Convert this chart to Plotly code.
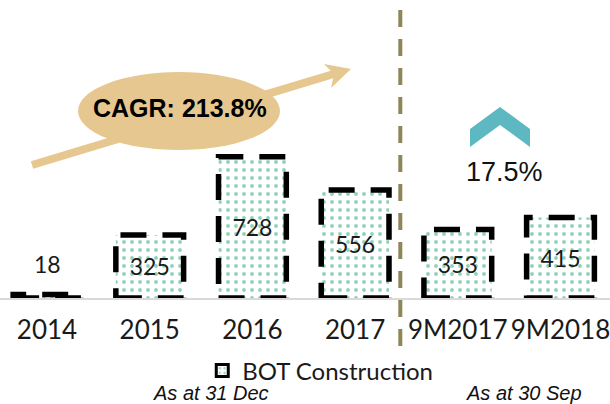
import plotly.graph_objects as go

categories = ["2014", "2015", "2016", "2017", "9M2017", "9M2018"]
values = [18, 325, 728, 556, 353, 415]
series_name = "BOT Construction"
cagr_label = "CAGR: 213.8%"
growth_label = "17.5%"
period_labels = ["As at 31 Dec", "As at 30 Sep"]

W, H = 610, 404
T, B = 6, 106
PLOT_H = H - T - B
BASE = H - B


def px(x):
    return x / W


def py(y):
    return (BASE - y) / PLOT_H


green = "#1FA571"
tan = "#E6C78F"
teal = "#5DB8C1"
olive = "#8E8559"
font_main = "Lato"

fig = go.Figure()

texts = ["" if i == 0 else str(v) for i, v in enumerate(values)]
fig.add_trace(go.Bar(
    x=categories, y=values, width=0.66,
    marker=dict(color="white", line=dict(width=0),
                pattern=dict(shape=".", fgcolor=green, bgcolor="white",
                             size=8, solidity=0.18)),
    text=texts, textposition="inside", insidetextanchor="middle",
    textfont=dict(family=font_main, size=23, color="#1a1a1a"),
    showlegend=False, hoverinfo="skip",
))
# legend-only entry
fig.add_trace(go.Bar(
    x=[None], y=[None], name=series_name,
    marker=dict(color="white", line=dict(width=3, color="black"),
                pattern=dict(shape=".", fgcolor=green, bgcolor="white",
                             size=6, solidity=0.2)),
    showlegend=True,
))

shapes = []
# arrow (behind ellipse)
shapes.append(dict(type="line", xref="paper", yref="paper",
                   x0=px(32), y0=py(165), x1=px(337), y1=py(73),
                   line=dict(color=tan, width=8)))
shapes.append(dict(type="path", xref="paper", yref="paper",
                   path=f"M{px(351)},{py(69)} L{px(324)},{py(64)} L{px(334)},{py(74)} L{px(331)},{py(88)} Z",
                   fillcolor=tan, line=dict(width=0)))
# ellipse
shapes.append(dict(type="circle", xref="paper", yref="paper",
                   x0=px(78), x1=px(280), y0=py(72), y1=py(150),
                   fillcolor=tan, line=dict(width=0)))
# chevron
shapes.append(dict(type="path", xref="paper", yref="paper",
                   path=(f"M{px(500)},{py(107)} L{px(530)},{py(129)} L{px(530)},{py(147)} "
                         f"L{px(500)},{py(125)} L{px(470)},{py(147)} L{px(470)},{py(129)} Z"),
                   fillcolor=teal, line=dict(width=0)))
# vertical divider
shapes.append(dict(type="line", xref="x", yref="paper",
                   x0=3.44, x1=3.44, y0=py(10), y1=py(347),
                   line=dict(color=olive, width=4, dash="17px,12px")))
# dashed bar borders
for i, v in enumerate(values):
    shapes.append(dict(type="rect", xref="x", yref="y",
                       x0=i - 0.33, x1=i + 0.33, y0=0, y1=v,
                       line=dict(color="black", width=5.5, dash="26px,16px"),
                       fillcolor="rgba(0,0,0,0)"))

annotations = [
    dict(x=0, y=values[0], xref="x", yref="y", text=str(values[0]),
         showarrow=False, yshift=31, yanchor="middle",
         font=dict(family=font_main, size=23, color="#1a1a1a")),
    dict(x=px(180), y=py(108), xref="paper", yref="paper", text="<b>" + cagr_label + "</b>",
         showarrow=False, xanchor="center", yanchor="middle",
         font=dict(family="Liberation Sans", size=25, color="black")),
    dict(x=px(504), y=py(172), xref="paper", yref="paper", text=growth_label,
         showarrow=False, xanchor="center", yanchor="middle",
         font=dict(family="Liberation Sans", size=27, color="#111")),
    dict(x=px(211), y=py(393), xref="paper", yref="paper", text="<i>" + period_labels[0] + "</i>",
         showarrow=False, xanchor="center", yanchor="middle",
         font=dict(family="Liberation Sans", size=20, color="#111")),
    dict(x=px(524), y=py(393), xref="paper", yref="paper", text="<i>" + period_labels[1] + "</i>",
         showarrow=False, xanchor="center", yanchor="middle",
         font=dict(family="Liberation Sans", size=20, color="#111")),
]

fig.update_layout(
    width=W, height=H,
    margin=dict(l=0, r=0, t=T, b=B),
    paper_bgcolor="white", plot_bgcolor="white",
    barmode="overlay",
    shapes=shapes, annotations=annotations,
    xaxis=dict(type="category", range=[-0.458, 5.482], showgrid=False,
               showline=True, linecolor="#D9D9D9", linewidth=2,
               ticks="", ticklabelstandoff=8,
               tickfont=dict(family=font_main, size=26, color="#1a1a1a"),
               fixedrange=True),
    yaxis=dict(range=[0, 1505], visible=False, fixedrange=True),
    legend=dict(orientation="h", x=0.525, xanchor="center", y=py(371), yanchor="middle",
                font=dict(family=font_main, size=24, color="#1a1a1a"),
                bgcolor="rgba(0,0,0,0)"),
    showlegend=True,
)

fig.write_html("out.html", config={"displayModeBar": False},
               post_script="document.body.style.margin='0';document.body.style.overflow='hidden';")
